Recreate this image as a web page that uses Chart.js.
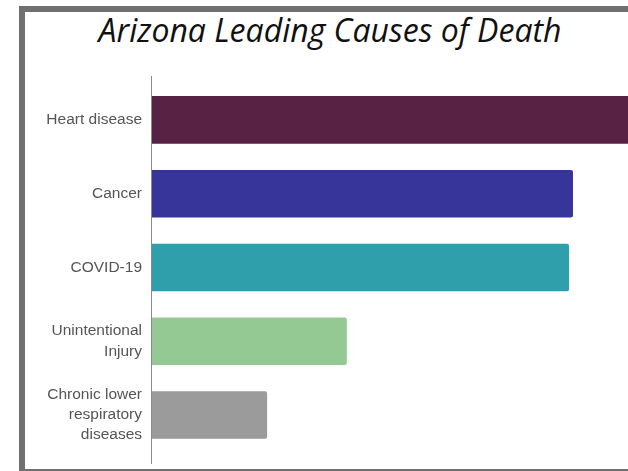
<!DOCTYPE html>
<html>
<head>
<meta charset="utf-8">
<script src="https://cdn.jsdelivr.net/npm/chart.js@4"></script>
<style>
  html, body { margin: 0; padding: 0; background: #fff; overflow: hidden; width: 628px; height: 471px; }
  #frame { position: absolute; left: 19px; top: 6px; width: 700px; height: 457px;
           border-left: 6px solid #707070; border-top: 6px solid #707070; border-bottom: 2px solid #707070; }
  #title { position: absolute; left: 0; width: 660px; top: 8px; text-align: center;
           font-family: "Open Sans", sans-serif; font-style: italic; font-size: 32px; color: #111; }
  #wrap { position: absolute; left: 0; top: 0; width: 692px; height: 471px; }
</style>
</head>
<body>
<div id="frame"></div>
<div id="title">Arizona Leading Causes of Death</div>
<div id="wrap"><canvas id="myChart"></canvas></div>
<script>
const causes = ['Heart disease', 'Cancer', 'COVID-19', ['Unintentional', 'Injury'], ['Chronic lower', 'respiratory', 'diseases']]
const deaths = [14000, 11700, 11590, 5430, 3220]
const colors = ['#572244', '#37349a', '#2e9fab', '#95c994', '#9b9b9b']

const axisLine = {
  id: 'axisLine',
  afterDatasetsDraw(chart) {
    const ctx = chart.ctx, a = chart.chartArea
    ctx.save()
    ctx.strokeStyle = '#8a8a8a'
    ctx.lineWidth = 1
    ctx.beginPath()
    ctx.moveTo(a.left + 0.5, a.top - 7)
    ctx.lineTo(a.left + 0.5, a.bottom + 12)
    ctx.stroke()
    ctx.restore()
  }
}

var ctx = document.getElementById('myChart').getContext('2d');

new Chart(ctx, {
  type: 'bar',
  data: {
    labels: causes,
    datasets: [{
      data: deaths,
      backgroundColor: colors,
      borderRadius: 2,
      barPercentage: 0.645,
      categoryPercentage: 1
    }]
  },
  options: {
    indexAxis: 'y',
    responsive: true,
    maintainAspectRatio: false,
    animation: false,
    layout: { padding: { top: 83, bottom: 16, left: 0, right: 0 } },
    plugins: { legend: { display: false }, tooltip: { enabled: false } },
    scales: {
      x: { display: false, min: 0, max: 15000 },
      y: {
        grid: { display: false, drawTicks: false },
        border: { display: false },
        afterFit(scale) { scale.width = 151 },
        ticks: {
          color: '#555',
          padding: 9,
          font: { family: 'Liberation Sans', size: 15.5, lineHeight: 1.3 }
        }
      }
    }
  },
  plugins: [axisLine]
});
</script>
</body>
</html>
